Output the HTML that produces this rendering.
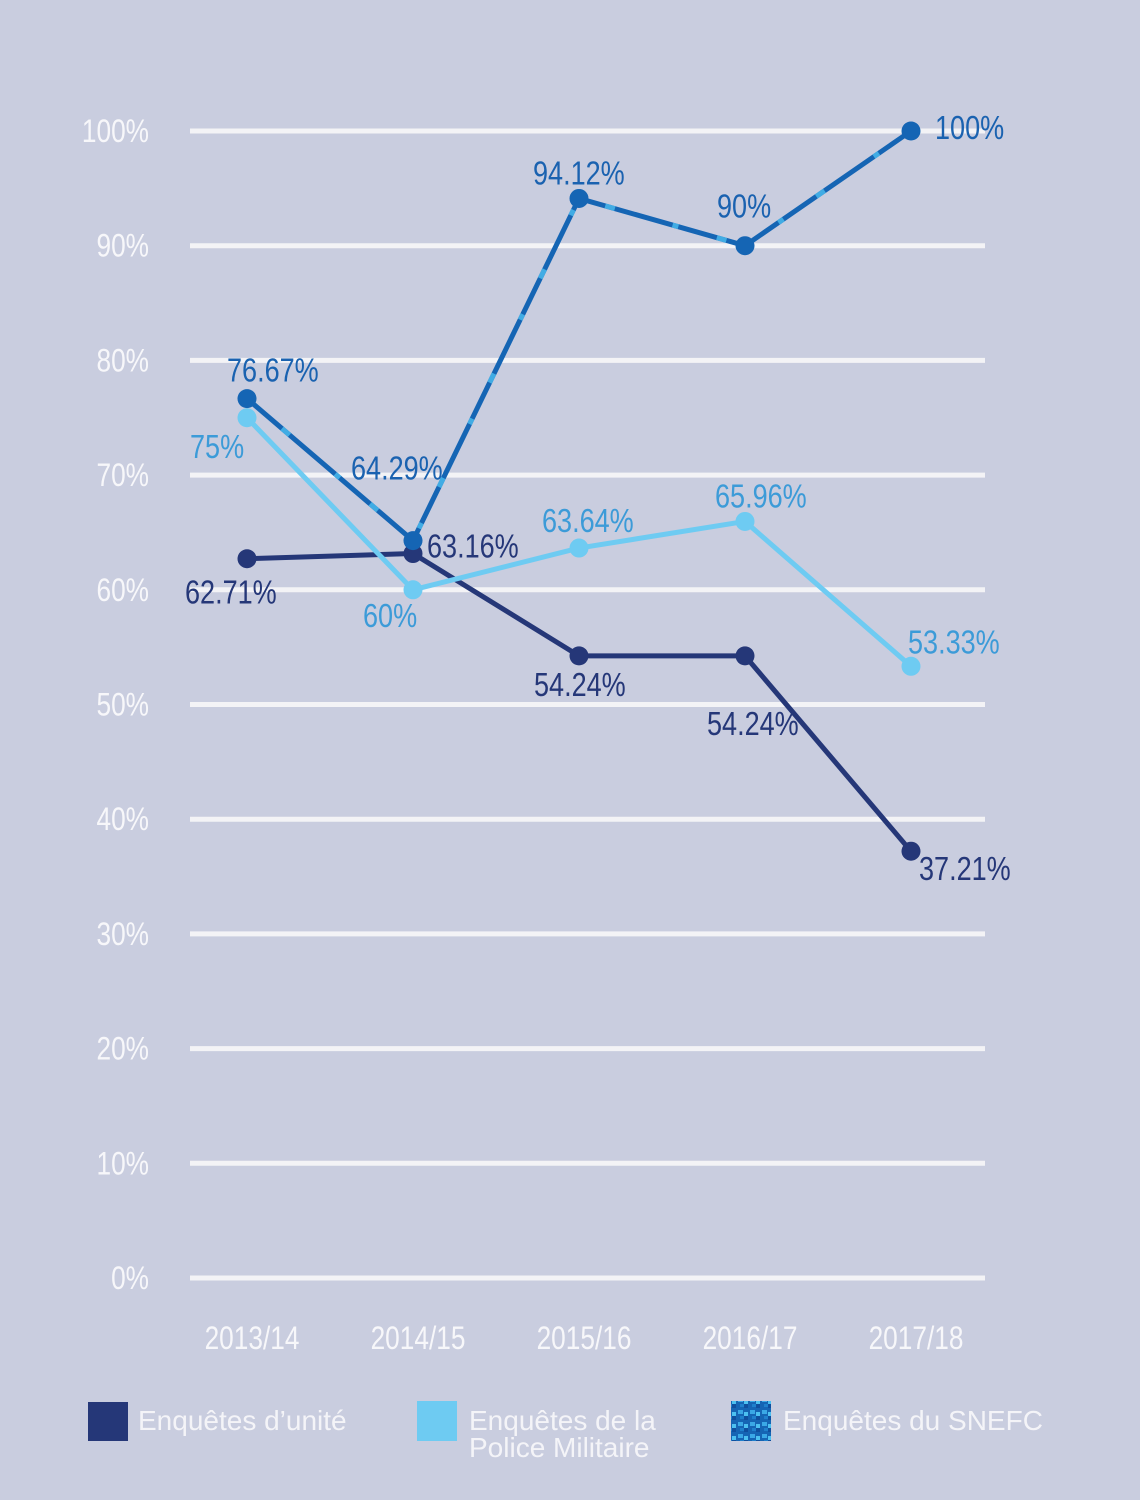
<!DOCTYPE html>
<html><head><meta charset="utf-8"><style>
html,body{margin:0;padding:0;background:#c9cddf;}
svg{display:block;font-family:"Liberation Sans",sans-serif;}
</style></head><body>
<svg id="chart" width="1140" height="1500" viewBox="0 0 1140 1500">
<rect width="1140" height="1500" fill="#c9cddf"/>
<defs>
<pattern id="snefc" width="12" height="12" patternUnits="userSpaceOnUse">
<rect width="12" height="12" fill="#1565b4"/><rect x="0" y="0" width="4" height="4" fill="#0f4f9e"/><rect x="6" y="6" width="5" height="4" fill="#3aa8e6"/><rect x="8" y="0" width="4" height="3" fill="#1f80cc"/><rect x="0" y="8" width="4" height="4" fill="#4cc0f0"/>
</pattern>
</defs>
<g id="grid"></g><g id="series"></g><g id="labels"></g>
<g>
<rect x="88" y="1402" width="40" height="39" fill="#253778"/>
<text x="138" y="1430" font-size="28" fill="#f4f4f8">Enquêtes d’unité</text>
<rect x="417" y="1401" width="40" height="40" fill="#6ecbf2"/>
<text x="469" y="1430" font-size="28" fill="#f4f4f8">Enquêtes de la</text>
<text x="469" y="1457" font-size="28" fill="#f4f4f8">Police Militaire</text>
<rect x="731" y="1401" width="40" height="40" fill="url(#snefc)"/>
<text x="783" y="1430" font-size="28" fill="#f4f4f8">Enquêtes du SNEFC</text>
</g>
</svg>
<script>
const categories=["2013/14","2014/15","2015/16","2016/17","2017/18"];
const uniteValues=[62.71,63.16,54.24,54.24,37.21];
const policeValues=[75,60,63.64,65.96,53.33];
const snefcValues=[76.67,64.29,94.12,90,100];
const yTicks=[0,10,20,30,40,50,60,70,80,90,100];
const NS="http://www.w3.org/2000/svg";
const xPos=[247,416,580,748,911];
function x(i){return xPos[0]+(xPos[4]-xPos[0])*i/(categories.length-1);}
function y(v){return 1278-v*(1278-131)/100;}
function mk(tag,attrs,parent){const e=document.createElementNS(NS,tag);for(const k in attrs)e.setAttribute(k,attrs[k]);parent.appendChild(e);return e;}
function ctext(str,tx,ty,size,fill,anchor,parent){const t=mk('text',{transform:`translate(${tx},${ty}) scale(0.82,1)`,'font-size':size,fill:fill,'text-anchor':anchor},parent);t.textContent=str;return t;}
const grid=document.getElementById('grid');
yTicks.forEach(v=>{
  const l=mk('line',{x1:190,x2:985,y1:y(v),y2:y(v),stroke:'#f3f3f6','stroke-width':5},grid);
  
  
  const t=ctext(v+'%',149,y(v)+11,32,'#f7f7fa','end',grid);
  
  
});
categories.forEach((c,i)=>{
  const t=ctext(c,x(i)+5,1349,32,'#f7f7fa','middle',grid);
  
  
});
const ser=document.getElementById('series');
function drawSeries(vals,color,name,dash){
  const pts=vals.map((v,i)=>x(i)+','+y(v)).join(' ');
  const p=mk('polyline',{points:pts,fill:'none',stroke:color,'stroke-width':5,'stroke-linejoin':'round'},ser);
  
  
  if(dash){
    const d=mk('polyline',{points:pts,fill:'none',stroke:'#4cbef0','stroke-width':5,'stroke-dasharray':'6 40 10 60','opacity':0.8},ser);
    
    
  }
  vals.forEach((v,i)=>{
    const c=mk('circle',{cx:x(i),cy:y(v),r:9.5,fill:color},ser);
    
    
  });
}
drawSeries(uniteValues,'#253778','unite',false);
drawSeries(policeValues,'#6ecbf2','police',false);
drawSeries(snefcValues,'#1565b4','snefc',true);
const lab=document.getElementById('labels');
function fmt(v){return (Math.round(v*100)/100)+'%';}
const uOff=[[-62,34,'start'],[14,-7,'start'],[-45,29,'start'],[-38,68,'start'],[8,18,'start']];
const pOff=[[-57,29,'start'],[-50,26,'start'],[-37,-27,'start'],[-30,-25,'start'],[-3,-24,'start']];
const sOff=[[-20,-28,'start'],[-62,-72,'start'],[-46,-25,'start'],[-28,-39,'start'],[24,-3,'start']];
function drawLabels(vals,offs,color,name){
  vals.forEach((v,i)=>{
    const t=ctext(fmt(v),x(i)+offs[i][0],y(v)+offs[i][1]+11,33,color,offs[i][2],lab);
    
    
  });
}
drawLabels(uniteValues,uOff,'#253778','unite');
drawLabels(policeValues,pOff,'#3c9bd8','police');
drawLabels(snefcValues,sOff,'#1a62b0','snefc');
</script>
</body></html>
